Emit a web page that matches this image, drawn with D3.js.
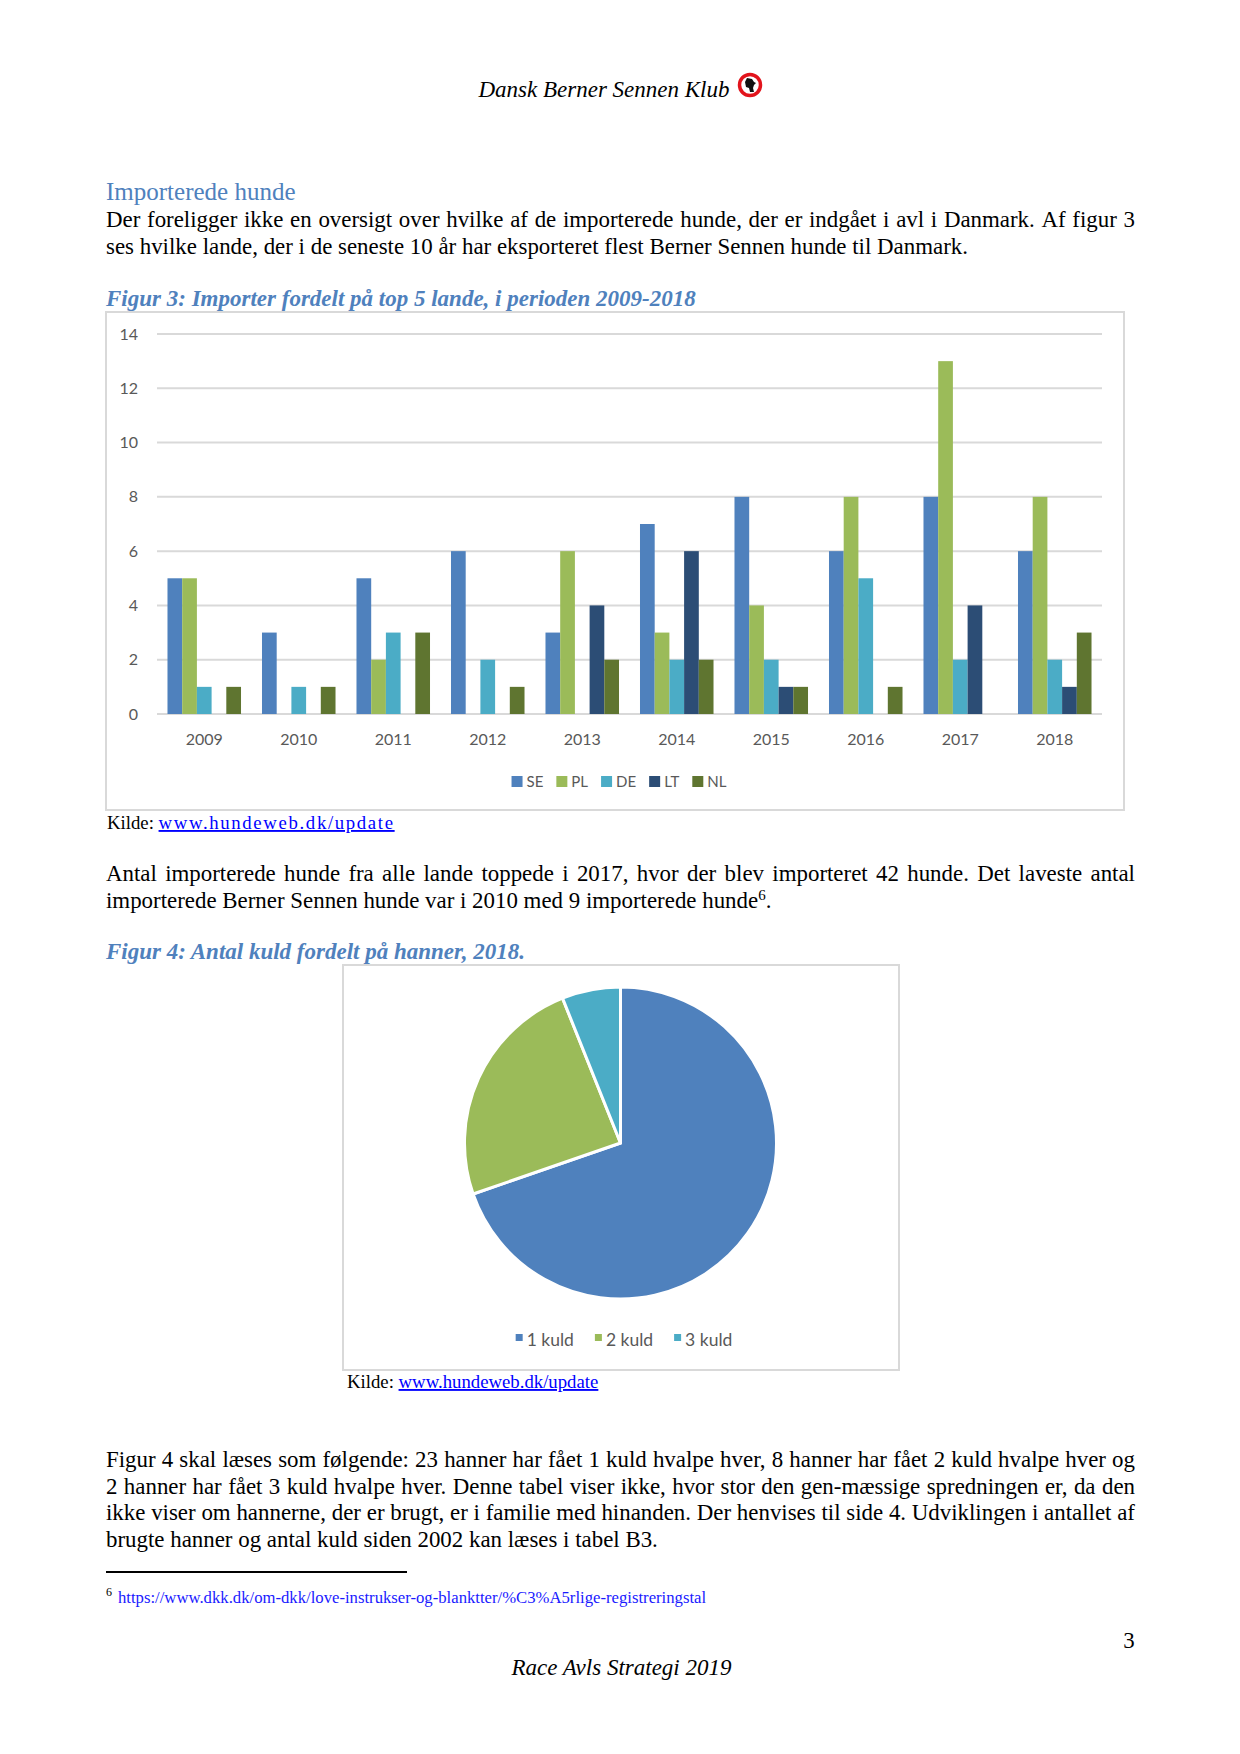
<!DOCTYPE html>
<html lang="da">
<head>
<meta charset="utf-8">
<script src="https://d3js.org/d3.v7.min.js"></script>
<style>
  body { margin: 0; background: #fff; }
</style>
</head>
<body>
<div id="page"></div>
<script>

// figur 3 data: imports per country and year
var years = ["2009","2010","2011","2012","2013","2014","2015","2016","2017","2018"];
var countries = ["SE","PL","DE","LT","NL"];
var SE = [5,3,5,6,3,7,8,6,8,6];
var PL = [5,0,2,0,6,3,4,8,13,8];
var DE = [1,1,3,2,0,2,2,5,2,2];
var LT = [0,0,0,0,4,6,1,0,4,1];
var NL = [1,1,3,1,2,2,1,1,0,3];
var yTicks = [0,2,4,6,8,10,12,14];

// figur 4 data: litters per male
var kuldLabels = ["1 kuld","2 kuld","3 kuld"];
var kuldValues = [23,8,2];

var barColors = ["#4f81bd","#9bbb59","#4bacc6","#2c4d75","#5f7530"];
var pieColors = ["#4f81bd","#9bbb59","#4bacc6"];
var blue = "#4f81bd";
var serif = "'Liberation Serif', 'Times New Roman', serif";
var sans = "Lato, 'Open Sans', sans-serif";
var bodySize = 22.9;
var right = 1135;

var svg = d3.select("#page").append("svg")
    .attr("width", 1240).attr("height", 1754)
    .attr("font-family", serif);

// justify a line of text between x0 and x1 by placing words one by one
function justified(str, x0, x1, y) {
  var words = str.split(" ");
  var g = svg.append("g");
  var nodes = words.map(function(w) {
    return g.append("text").attr("y", y).attr("font-size", bodySize).text(w);
  });
  var widths = nodes.map(n => n.node().getComputedTextLength());
  var total = d3.sum(widths);
  var gap = (x1 - x0 - total) / (words.length - 1);
  var x = x0;
  nodes.forEach(function(n, i) {
    n.attr("x", x);
    x += widths[i] + gap;
  });
}
function plain(str, x, y) {
  return svg.append("text").attr("x", x).attr("y", y)
    .attr("font-size", bodySize).text(str);
}

// header
svg.append("text").attr("x", 604).attr("y", 97)
  .attr("text-anchor", "middle").attr("font-size", 23)
  .attr("font-style", "italic").text("Dansk Berner Sennen Klub");
var logo = svg.append("g").attr("transform", "translate(750,85)");
logo.append("circle").attr("r", 10.5).attr("fill", "#fff")
  .attr("stroke", "#e2141c").attr("stroke-width", 3.5);
logo.append("path").attr("d", "M-3,-7 L2,-6 L4,-3 L6,-2 L4,0 L3,3 L4,7 L0,7 L-1,3 L-4,2 L-5,-3 Z")
  .attr("fill", "#111");

// heading + paragraph 1
svg.append("text").attr("x", 106).attr("y", 200).attr("font-size", 25)
  .attr("fill", blue).text("Importerede hunde");
justified("Der foreligger ikke en oversigt over hvilke af de importerede hunde, der er indgået i avl i Danmark. Af figur 3", 106, right, 227);
plain("ses hvilke lande, der i de seneste 10 år har eksporteret flest Berner Sennen hunde til Danmark.", 106, 254);

svg.append("text").attr("x", 106).attr("y", 306).attr("font-size", 23)
  .attr("font-weight", "bold").attr("font-style", "italic").attr("fill", blue)
  .text("Figur 3: Importer fordelt på top 5 lande, i perioden 2009-2018");

// ---- bar chart ----
svg.append("rect").attr("x", 106).attr("y", 312).attr("width", 1018).attr("height", 498)
  .attr("fill", "none").attr("stroke", "#d9d9d9").attr("stroke-width", 2);

var series = [SE, PL, DE, LT, NL];
var x0 = d3.scaleBand().domain(years).range([157, 1102]).paddingInner(0.222).paddingOuter(0.111);
var x1 = d3.scaleBand().domain(countries).range([0, x0.bandwidth()]);
var y = d3.scaleLinear().domain([0, 14]).range([714, 334]);

svg.append("g").selectAll("line").data(yTicks).enter().append("line")
  .attr("x1", 157).attr("x2", 1102)
  .attr("y1", d => y(d)).attr("y2", d => y(d))
  .attr("stroke", "#d9d9d9").attr("stroke-width", 2);

var yAxis = svg.append("g").attr("transform", "translate(157,0)")
  .call(d3.axisLeft(y).tickValues(yTicks).tickSize(0).tickPadding(19));
yAxis.select(".domain").remove();
yAxis.attr("font-family", sans).attr("font-size", 16);
yAxis.selectAll("text").attr("fill", "#595959");

var xAxis = svg.append("g").attr("transform", "translate(0,714)")
  .call(d3.axisBottom(x0).tickSize(0).tickPadding(20));
xAxis.select(".domain").remove();
xAxis.attr("font-family", sans).attr("font-size", 16);
xAxis.selectAll("text").attr("fill", "#595959");

var groups = svg.append("g").selectAll("g").data(years).enter().append("g")
  .attr("transform", d => "translate(" + x0(d) + ",0)");
groups.selectAll("rect")
  .data((d, i) => countries.map((c, k) => ({c: c, v: series[k][i], k: k})))
  .enter().append("rect")
  .attr("x", d => x1(d.c))
  .attr("width", x1.bandwidth())
  .attr("y", d => y(d.v))
  .attr("height", d => y(0) - y(d.v))
  .attr("fill", d => barColors[d.k]);

// legend
var leg = svg.append("g");
var lx = 0;
countries.forEach(function(c, i) {
  var it = leg.append("g").attr("transform", "translate(" + lx + ",0)");
  it.append("rect").attr("x", 0).attr("y", 776).attr("width", 11).attr("height", 11).attr("fill", barColors[i]);
  var t = it.append("text").attr("x", 15).attr("y", 787).attr("font-family", sans)
    .attr("font-size", 15).attr("fill", "#595959").text(c);
  lx += 15 + t.node().getComputedTextLength() + 13;
});
leg.attr("transform", "translate(" + (619 - (lx - 13) / 2) + ",0)");

var k1 = svg.append("text").attr("x", 107).attr("y", 829).attr("font-size", 18.75);
k1.append("tspan").text("Kilde: ");
k1.append("tspan").attr("fill", "#0000ff").attr("text-decoration", "underline")
  .attr("letter-spacing", 1.65).text("www.hundeweb.dk/update");

// paragraph 2
justified("Antal importerede hunde fra alle lande toppede i 2017, hvor der blev importeret 42 hunde. Det laveste antal", 106, right, 881);
var p2 = plain("importerede Berner Sennen hunde var i 2010 med 9 importerede hunde", 106, 908);
p2.append("tspan").attr("font-size", 15).attr("dy", -8).text("6");
p2.append("tspan").attr("dy", 8).text(".");

svg.append("text").attr("x", 106).attr("y", 959).attr("font-size", 23)
  .attr("font-weight", "bold").attr("font-style", "italic").attr("fill", blue)
  .text("Figur 4: Antal kuld fordelt på hanner, 2018.");

// ---- pie chart ----
svg.append("rect").attr("x", 343).attr("y", 965).attr("width", 556).attr("height", 405)
  .attr("fill", "none").attr("stroke", "#d9d9d9").attr("stroke-width", 2);

var pie = d3.pie().sort(null)(kuldValues);
var arc = d3.arc().innerRadius(0).outerRadius(156);
svg.append("g").attr("transform", "translate(620.5,1143)")
  .selectAll("path").data(pie).enter().append("path")
  .attr("d", arc).attr("fill", (d, i) => pieColors[i])
  .attr("stroke", "#fff").attr("stroke-width", 3).attr("stroke-linejoin", "round");

var leg2 = svg.append("g");
var px = 0;
kuldLabels.forEach(function(lbl, i) {
  var it = leg2.append("g").attr("transform", "translate(" + px + ",0)");
  it.append("rect").attr("x", 0).attr("y", 1334).attr("width", 7).attr("height", 7).attr("fill", pieColors[i]);
  var t = it.append("text").attr("x", 11).attr("y", 1346).attr("font-family", sans)
    .attr("font-size", 17.5).attr("fill", "#595959").text(lbl);
  px += 11 + t.node().getComputedTextLength() + 21;
});
leg2.attr("transform", "translate(" + (624 - (px - 21) / 2) + ",0)");

var k2 = svg.append("text").attr("x", 347).attr("y", 1388).attr("font-size", 18.75);
k2.append("tspan").text("Kilde: ");
k2.append("tspan").attr("fill", "#0000ff").attr("text-decoration", "underline").text("www.hundeweb.dk/update");

// paragraph 3
justified("Figur 4 skal læses som følgende: 23 hanner har fået 1 kuld hvalpe hver, 8 hanner har fået 2 kuld hvalpe hver og", 106, right, 1467);
justified("2 hanner har fået 3 kuld hvalpe hver. Denne tabel viser ikke, hvor stor den gen-mæssige spredningen er, da den", 106, right, 1494);
justified("ikke viser om hannerne, der er brugt, er i familie med hinanden. Der henvises til side 4. Udviklingen i antallet af", 106, right, 1520);
plain("brugte hanner og antal kuld siden 2002 kan læses i tabel B3.", 106, 1547);

// footnote
svg.append("line").attr("x1", 106).attr("x2", 407).attr("y1", 1572).attr("y2", 1572)
  .attr("stroke", "#000").attr("stroke-width", 2);
svg.append("text").attr("x", 106).attr("y", 1596).attr("font-size", 12).text("6");
svg.append("text").attr("x", 118).attr("y", 1603).attr("font-size", 16.7).attr("fill", "#1a1aff")
  .text("https://www.dkk.dk/om-dkk/love-instrukser-og-blanktter/%C3%A5rlige-registreringstal");

// page footer
svg.append("text").attr("x", 1129).attr("y", 1648).attr("text-anchor", "middle")
  .attr("font-size", 22.9).text("3");
svg.append("text").attr("x", 621.5).attr("y", 1675).attr("text-anchor", "middle")
  .attr("font-size", 23).attr("font-style", "italic").text("Race Avls Strategi 2019");

</script>
</body>
</html>
